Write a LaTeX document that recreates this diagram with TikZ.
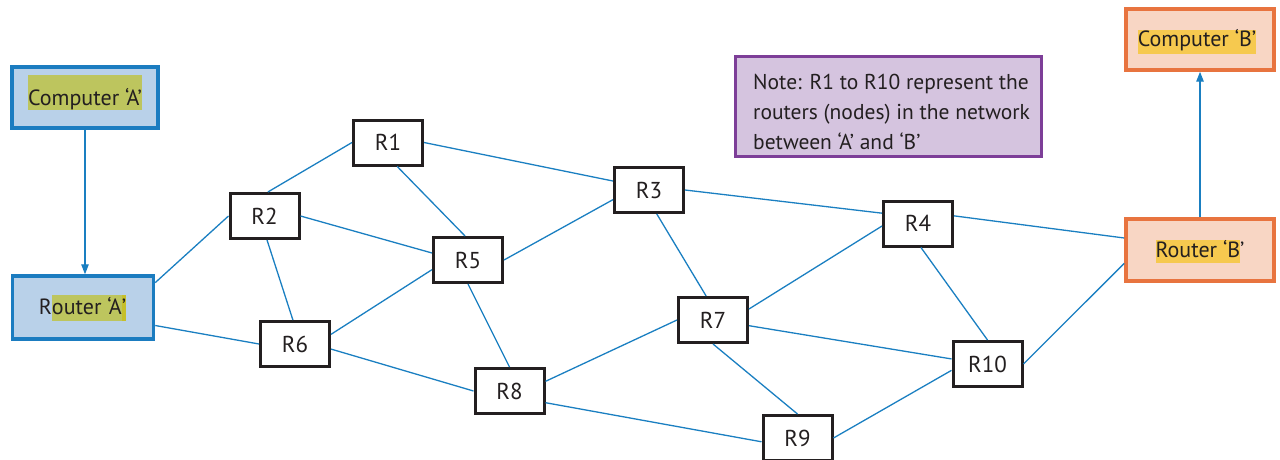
\documentclass[tikz,border=0pt]{standalone}
\usepackage{fontspec}
\setmainfont{PT Sans}
\usetikzlibrary{arrows.meta}
\definecolor{edgeblue}{HTML}{1A7FC1}
\definecolor{boxdark}{HTML}{231F20}
\definecolor{textdark}{HTML}{231F20}
\definecolor{lightblue}{HTML}{B9D1E9}
\definecolor{blueborder}{HTML}{1B7CC0}
\definecolor{peach}{HTML}{F8D6C4}
\definecolor{orangeborder}{HTML}{E8743F}
\definecolor{notefill}{HTML}{D5C4DF}
\definecolor{noteborder}{HTML}{7D3E98}
\definecolor{hlolive}{HTML}{BDC55E}
\definecolor{hlolivedark}{HTML}{C6BF2A}
\definecolor{hlyellow}{HTML}{F6C94F}
\newcommand\myhl[4]{{\setlength{\fboxsep}{0pt}\colorbox{#1}{\rule[-#2]{0pt}{#3}#4}}}
\begin{document}
\begin{tikzpicture}[x=1pt,y=-1pt,
  router/.style={draw=boxdark, line width=3pt, fill=white, minimum width=69pt,
    minimum height=45pt, inner sep=0pt, text=textdark, font=\fontsize{23}{27}\selectfont},
  endA/.style={draw=blueborder, fill=lightblue, line width=3.5pt, inner sep=0pt},
  endB/.style={draw=orangeborder, fill=peach, line width=3.5pt, inner sep=0pt},
  lbl/.style={anchor=base, inner sep=0pt, text=textdark, font=\fontsize{22}{26}\selectfont},
  link/.style={draw=edgeblue, line width=1.3pt},
  arrowlink/.style={link, -{Triangle[length=10pt,width=7.5pt]}}]
\useasboundingbox (0,0) rectangle (1280,460);

% end systems
\node[endA, minimum width=146pt, minimum height=61pt] (CA) at (85,97.5) {};
\node[endA, minimum width=141pt, minimum height=63pt] (RA) at (83,307.5) {};
\node[endB, minimum width=148pt, minimum height=61pt] (CB) at (1200,39.5) {};
\node[endB, minimum width=148pt, minimum height=62pt] (RB) at (1200,250) {};

\node[lbl] (CAt) at (85,105) {\myhl{hlolive}{5pt}{35pt}{Computer ‘A’}};
\node[lbl] (RAt) at (82.5,314) {R\myhl{hlolive}{7pt}{26pt}{outer ‘A}\myhl{hlolivedark}{7pt}{26pt}{’}};
\node[lbl] (CBt) at (1197,47) {\myhl{hlyellow}{7pt}{23pt}{Computer ‘B’}};
\node[lbl] (RBt) at (1200,257) {\myhl{hlyellow}{6pt}{23pt}{Router ‘B}’};

% note
\node[draw=noteborder, fill=notefill, line width=3pt, minimum width=306pt, minimum height=100pt] (note) at (888.5,106.5) {};
\node[anchor=north west, inner sep=0pt, align=left, text=textdark,
  font=\fontsize{21.5}{30}\selectfont] (notet) at (753,74)
  {Note: R1 to R10 represent the\\routers (nodes) in the network\\between ‘A’ and ‘B’};

% routers
\node[router] (R1) at (388,142.5) {R1};
\node[router] (R2) at (264.5,216) {R2};
\node[router] (R3) at (649,190) {R3};
\node[router] (R4) at (918,223.5) {R4};
\node[router] (R5) at (468,260) {R5};
\node[router] (R6) at (295,344) {R6};
\node[router] (R7) at (713,320) {R7};
\node[router] (R8) at (509.5,391) {R8};
\node[router] (R9) at (797.5,438) {R9};
\node[router] (R10) at (987.5,364) {R10};

% connectors
\draw[link] (RA.19.5) -- (R2.west);
\draw[link] (RA.-14) -- (R6.west);
\draw[link] (R2.-84) -- (R6.95);
\draw[link] (R2.82) -- (R1.west);
\draw[link] (R2.east) -- (R5.169);
\draw[link] (R6.15) -- (R5.195);
\draw[link] (R6.-8) -- (R8.west);
\draw[link] (R1.east) -- (R3.166);
\draw[link] (R1.-69) -- (R5.97);
\draw[link] (R5.east) -- (R3.195);
\draw[link] (R5.south) -- (R8.north);
\draw[link] (R8.15) -- (R7.west);
\draw[link] (R8.-18) -- (R9.186);
\draw[link] (R3.-72) -- (R7.106);
\draw[link] (R3.east) -- (R4.164);
\draw[link] (R7.17) -- (R4.184);
\draw[link] (R7.-9.5) -- (R10.172);
\draw[link] (R7.south) -- (R9.north);
\draw[link] (R4.12) -- (RB.171);
\draw[link] (R4.-83) -- (R10.north);
\draw[link] (R10.east) -- (RB.190);
\draw[link] (R9.east) -- (R10.190);

\draw[arrowlink] (CA.south) -- (CA.south |- RA.north);
\draw[arrowlink] (RB.north) -- (RB.north |- CB.south);
\end{tikzpicture}
\end{document}
